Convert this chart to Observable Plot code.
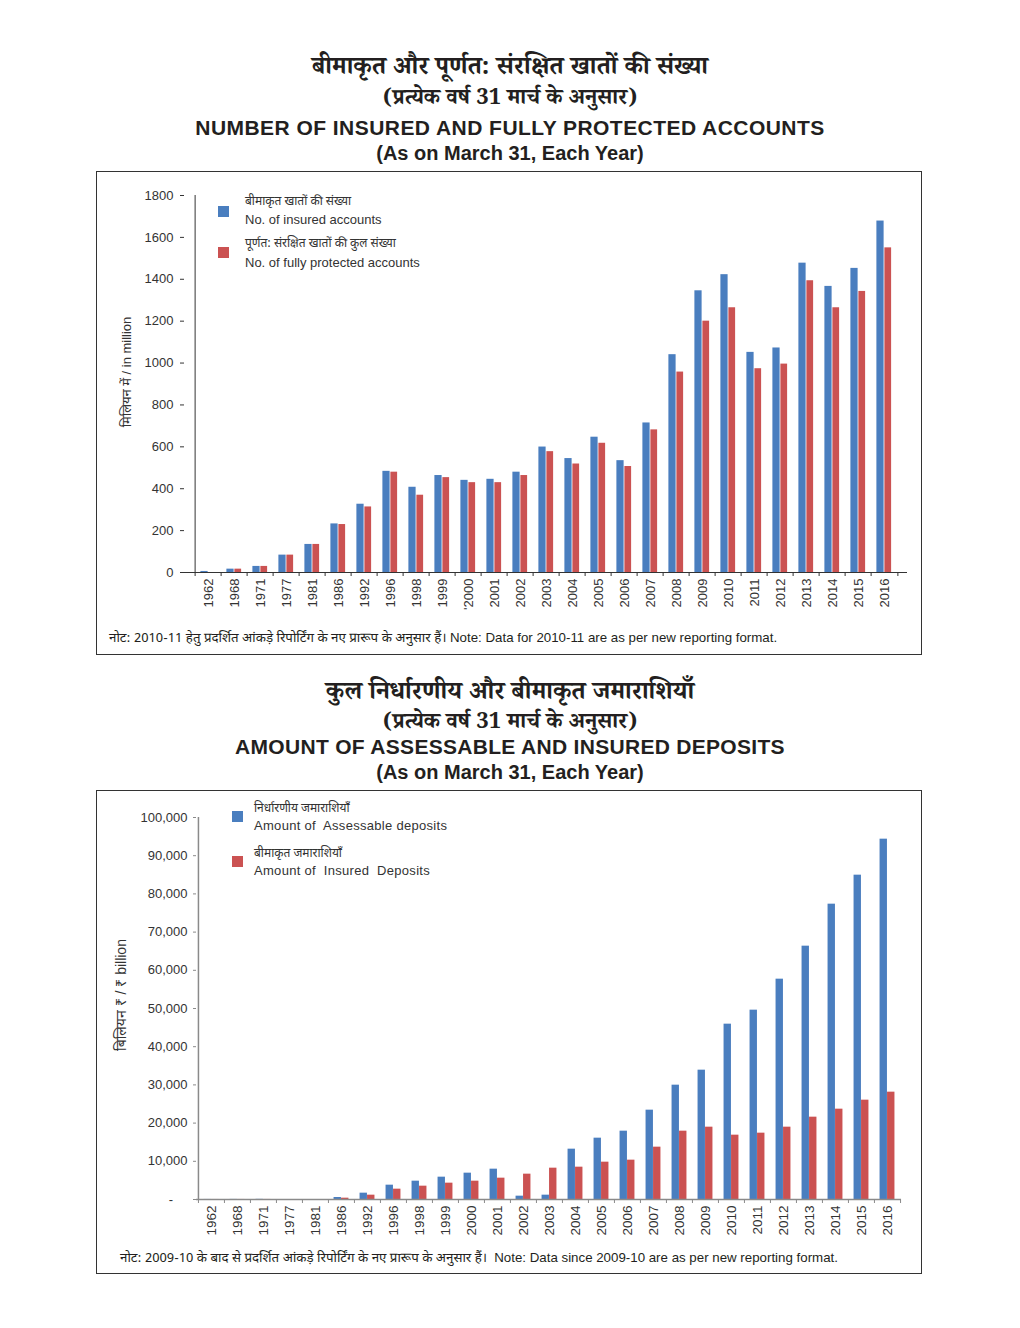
<!DOCTYPE html>
<html>
<head>
<meta charset="utf-8">
<script src="https://cdn.jsdelivr.net/npm/d3@7"></script>
<script src="https://cdn.jsdelivr.net/npm/@observablehq/plot@0.6"></script>
<style>
  html, body { margin: 0; padding: 0; background: #fff; }
  body { position: relative; width: 1020px; height: 1328px; font-family: "Liberation Sans", Arial, sans-serif; color: #231f20; overflow: hidden; }
  .hi-title { position: absolute; left: 0; width: 1020px; text-align: center; font-family: "Noto Serif Devanagari", "Noto Sans Devanagari", "Lohit Devanagari", serif; line-height: 1; white-space: nowrap; }
  .en-title { position: absolute; left: 0; width: 1020px; text-align: center; font-weight: bold; line-height: 1; white-space: nowrap; }
  .frame { position: absolute; left: 96px; width: 824px; border: 1px solid #333; box-sizing: content-box; }
  .abs { position: absolute; white-space: nowrap; line-height: 1; }
  .sw { position: absolute; width: 11px; height: 11px; }
  .hi { font-family: "Noto Sans Devanagari", "Noto Serif Devanagari", "Lohit Devanagari", sans-serif; }
  .rot { position: absolute; transform: translate(-50%, -50%) rotate(-90deg); white-space: nowrap; line-height: 1; color: #333; }
  .chart { position: absolute; left: 96px; }
</style>
</head>
<body>
<div class="hi-title" style="top:58px;font-size:25px;font-weight:bold;">बीमाकृत और पूर्णत: संरक्षित खातों की संख्या</div>
<div class="hi-title" style="top:90px;font-size:22px;font-weight:bold;">(प्रत्येक वर्ष 31 मार्च के अनुसार)</div>
<div class="en-title" style="top:117px;font-size:21px;letter-spacing:0.45px;">NUMBER OF INSURED AND FULLY PROTECTED ACCOUNTS</div>
<div class="en-title" style="top:143px;font-size:20px;">(As on March 31, Each Year)</div>
<div class="frame" style="top:171px;height:482px;"></div>

<div class="hi-title" style="top:683px;font-size:25px;font-weight:bold;">कुल निर्धारणीय और बीमाकृत जमाराशियाँ</div>
<div class="hi-title" style="top:714px;font-size:22px;font-weight:bold;">(प्रत्येक वर्ष 31 मार्च के अनुसार)</div>
<div class="en-title" style="top:736px;font-size:21px;letter-spacing:0.3px;">AMOUNT OF ASSESSABLE AND INSURED DEPOSITS</div>
<div class="en-title" style="top:762px;font-size:20px;">(As on March 31, Each Year)</div>
<div class="frame" style="top:790px;height:482px;"></div>

<div id="chart1" class="chart" style="top:171px;"></div>
<div id="chart2" class="chart" style="top:790px;"></div>

<!-- legends -->
<div class="sw" style="left:218px;top:206px;background:#4a7ebf;"></div>
<div class="abs hi" style="left:245px;top:196px;font-size:12px;color:#333;">बीमाकृत खातों की संख्या</div>
<div class="abs" style="left:245px;top:213px;font-size:13px;color:#333;">No. of insured accounts</div>
<div class="sw" style="left:218px;top:247px;background:#cb5252;"></div>
<div class="abs hi" style="left:245px;top:238px;font-size:12px;color:#333;">पूर्णत: संरक्षित खातों की कुल संख्या</div>
<div class="abs" style="left:245px;top:256px;font-size:13px;color:#333;">No. of fully protected accounts</div>

<div class="sw" style="left:232px;top:811px;background:#4a7ebf;"></div>
<div class="abs hi" style="left:254px;top:803px;font-size:12px;color:#333;">निर्धारणीय जमाराशियाँ</div>
<div class="abs" style="left:254px;top:819px;font-size:13px;color:#333;letter-spacing:0.3px;">Amount of&nbsp; Assessable deposits</div>
<div class="sw" style="left:232px;top:856px;background:#cb5252;"></div>
<div class="abs hi" style="left:254px;top:848px;font-size:12px;color:#333;">बीमाकृत जमाराशियाँ</div>
<div class="abs" style="left:254px;top:864px;font-size:13px;color:#333;letter-spacing:0.3px;">Amount of&nbsp; Insured&nbsp; Deposits</div>

<!-- y axis titles -->
<div class="rot" style="left:127px;top:372px;font-size:13px;"><span class="hi">मिलियन में</span> / in million</div>
<div class="rot" style="left:122px;top:995px;font-size:14px;"><span class="hi">बिलियन</span> ₹ / ₹ billion</div>

<!-- notes -->
<div class="abs" style="left:109px;top:631px;font-size:13.3px;color:#231f20;"><span class="hi" style="font-size:13.3px;">नोट: 2010-11 हेतु प्रदर्शित आंकड़े रिपोर्टिंग के नए प्रारूप के अनुसार हैं।</span> Note: Data for 2010-11 are as per new reporting format.</div>
<div class="abs" style="left:120px;top:1251px;font-size:13.3px;color:#231f20;"><span class="hi" style="font-size:13.3px;">नोट: 2009-10 के बाद से प्रदर्शित आंकड़े रिपोर्टिंग के नए प्रारूप के अनुसार हैं।</span>&nbsp; Note: Data since 2009-10 are as per new reporting format.</div>

<script>
// ---------- DATA ----------
const yearsTop = ["1962","1968","1971","1977","1981","1986","1992","1996","1998","1999","'2000","2001","2002","2003","2004","2005","2006","2007","2008","2009","2010","2011","2012","2013","2014","2015","2016"];
const insuredAccounts   = [5,16,29,83,134,232,326,483,407,463,440,445,479,599,544,646,534,714,1040,1345,1422,1051,1072,1477,1366,1452,1678];
const protectedAccounts = [0,16,29,83,134,229,313,479,369,453,429,429,463,577,518,617,506,681,957,1200,1264,973,995,1393,1264,1342,1550];
const yTicksTop = [0,200,400,600,800,1000,1200,1400,1600,1800];

const yearsBottom = ["1962","1968","1971","1977","1981","1986","1992","1996","1998","1999","2000","2001","2002","2003","2004","2005","2006","2007","2008","2009","2010","2011","2012","2013","2014","2015","2016"];
const assessableDeposits = [13,26,43,null,null,524,1658,3752,4799,5846,6894,7941,873,1134,13176,16056,17888,23386,29930,33857,45899,49564,57679,66317,77312,84904,94328];
const insuredDeposits    = [6,9,14,null,null,349,1134,2705,3490,4276,4799,5585,6632,8202,8464,9773,10297,13700,17888,18935,16841,17365,18935,21553,23647,26003,28098];
const yTicksBottom = [0,10000,20000,30000,40000,50000,60000,70000,80000,90000,100000];

const BLUE = "#4a7ebf", RED = "#cb5252";

// ---------- CHART 1 ----------
const rowsTop = yearsTop.map((y, i) => ({year: y, insured: insuredAccounts[i], protected: protectedAccounts[i]}));
const W = 825;
const m1 = {l: 88, r: 14, t: 24, b: 45};
const H1 = 446;
const bw1 = (W - m1.l - m1.r) / yearsTop.length;
const ax1 = "#333";

const chart1 = Plot.plot({
  width: W, height: H1,
  marginLeft: m1.l, marginRight: m1.r, marginTop: m1.t, marginBottom: m1.b,
  style: {fontFamily: "'Liberation Sans', Arial, sans-serif", fontSize: "13px", color: "#333", background: "transparent", overflow: "visible"},
  x: {type: "band", domain: yearsTop, padding: 0},
  y: {domain: [0, 1800]},
  marks: [
    Plot.barY(rowsTop, {x: "year", y: "insured", fill: BLUE, insetLeft: bw1/2 - 8, insetRight: bw1/2}),
    Plot.barY(rowsTop, {x: "year", y: "protected", fill: RED, insetLeft: bw1/2, insetRight: bw1/2 - 7.5}),
    Plot.ruleY([0], {stroke: ax1}),
    Plot.ruleX([yearsTop[0]], {x: d => d, y1: 0, y2: 1800, dx: -bw1/2, stroke: ax1}),
    Plot.ruleX(yearsTop, {x: d => d, y1: 0, y2: 0, insetBottom: -4, dx: -bw1/2, stroke: ax1}),
    Plot.ruleX([yearsTop[yearsTop.length - 1]], {x: d => d, y1: 0, y2: 0, insetBottom: -4, dx: bw1/2, stroke: ax1}),
    Plot.axisY({ticks: yTicksTop, tickSize: 4, tickPadding: 7, label: null, color: ax1, fontSize: 13, tickFormat: d => String(d)}),
    Plot.axisX({tickSize: 0, tickRotate: -90, tickPadding: 6, label: null, color: ax1, fontSize: 13})
  ]
});
document.getElementById("chart1").append(chart1);

// ---------- CHART 2 ----------
const rowsBottom = yearsBottom.map((y, i) => ({year: y, assessable: assessableDeposits[i], insured: insuredDeposits[i]}));
const m2 = {l: 100, r: 20, t: 27, b: 50};
const H2 = 459;
const bw2 = (W - m2.l - m2.r) / yearsBottom.length;
const ax2 = "#8a8a8a";
const fmt = d3.format(",");

const chart2 = Plot.plot({
  width: W, height: H2,
  marginLeft: m2.l, marginRight: m2.r, marginTop: m2.t, marginBottom: m2.b,
  style: {fontFamily: "'Liberation Sans', Arial, sans-serif", fontSize: "13px", color: "#333", background: "transparent", overflow: "visible"},
  x: {type: "band", domain: yearsBottom, padding: 0},
  y: {domain: [0, 100000]},
  marks: [
    Plot.barY(rowsBottom.filter(d => d.assessable != null), {x: "year", y: "assessable", fill: BLUE, insetLeft: bw2/2 - 7.5, insetRight: bw2/2}),
    Plot.barY(rowsBottom.filter(d => d.insured != null), {x: "year", y: "insured", fill: RED, insetLeft: bw2/2, insetRight: bw2/2 - 7.5}),
    Plot.ruleY([0], {stroke: ax2, strokeWidth: 1.5}),
    Plot.ruleX([yearsBottom[0]], {x: d => d, y1: 0, y2: 100000, dx: -bw2/2, stroke: ax2, strokeWidth: 1.5}),
    Plot.ruleX(yearsBottom, {x: d => d, y1: 0, y2: 0, insetBottom: -4, dx: -bw2/2, stroke: ax2}),
    Plot.ruleX([yearsBottom[yearsBottom.length - 1]], {x: d => d, y1: 0, y2: 0, insetBottom: -4, dx: bw2/2, stroke: ax2}),
    Plot.axisY({ticks: yTicksBottom, tickSize: 3, tickPadding: 6, label: null, stroke: ax2, fill: "#333", fontSize: 13,
      tickFormat: d => d === 0 ? "-\u00a0\u00a0\u00a0\u00a0" : fmt(d)}),
    Plot.axisX({tickSize: 0, tickRotate: -90, tickPadding: 6, label: null, fill: "#333", fontSize: 13.5})
  ]
});
document.getElementById("chart2").append(chart2);
</script>
</body>
</html>
